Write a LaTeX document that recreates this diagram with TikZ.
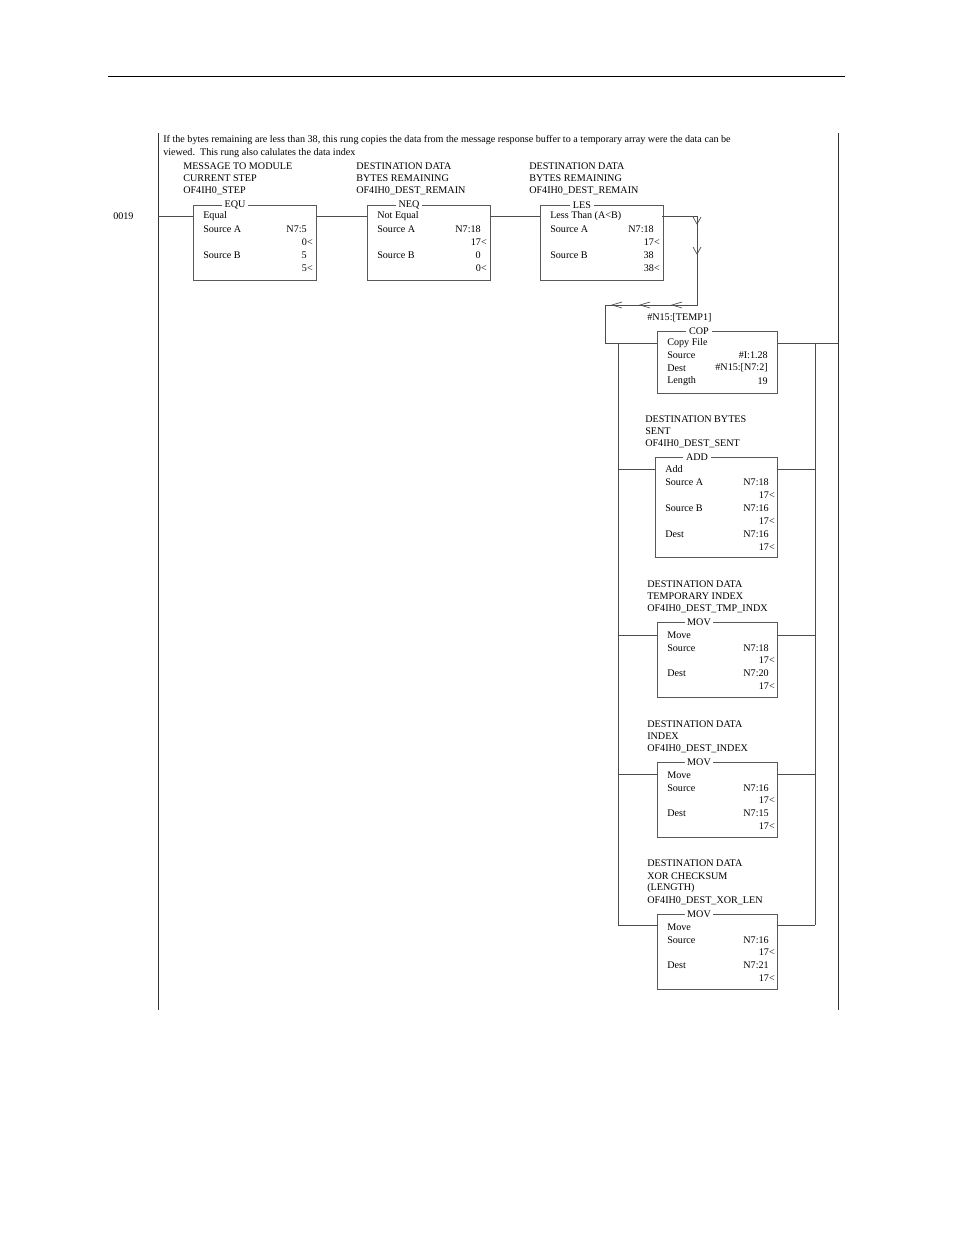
\documentclass[tikz,border=0pt]{standalone}
\usepackage{fontspec}
\setmainfont{Liberation Serif}
\usetikzlibrary{positioning}

\tikzset{
  rail/.style={draw=black!80, line width=0.6pt},
  wire/.style={draw=black!70, line width=0.5pt},
  instr/.style={draw=black!65, line width=0.6pt, fill=white},
  txt/.style={inner sep=0pt, font=\fontsize{7.6}{9}\selectfont},
  hdr/.style={txt, fill=white, inner xsep=2pt},
}
% box: name, left x, top y, right x, bottom y, header
\newcommand{\ladbox}[6]{%
  \draw[instr] (#2,#3) rectangle (#4,#5);
  \coordinate (#1nw) at (#2,#3);
  \coordinate (#1se) at (#4,#5);
  \node[hdr] (#1hdr) at (#2+42,#3) {#6};
}

\begin{document}
\begin{tikzpicture}[x=0.75pt,y=-0.75pt]
\useasboundingbox (0,0) rectangle (954,1235);

% page rule and rails
\draw[line width=0.6pt] (108,76) -- (845,76);
\coordinate (railLtop) at (158,133);
\coordinate (railLbot) at (158,1010);
\coordinate (railRtop) at (838,133);
\coordinate (railRbot) at (838,1010);
\draw[rail] (railLtop) -- (railLbot);
\draw[rail] (railRtop) -- (railRbot);

% rung comment
\node[txt, anchor=west] (cmt1) at (163,140) {If the bytes remaining are less than 38, this rung copies the data from the message response buffer to a temporary array were the data can be};
\node[txt, anchor=west] (cmt2) at (163,153) {viewed.\ \ This rung also calulates the data index};
\node[txt, anchor=west] (rungno) at (113,216) {0019};

% input instructions
\foreach \nm/\bx/\lx/\la/\lb/\lc/\hd in {
  equ/193/183/MESSAGE TO MODULE/CURRENT STEP/OF4IH0\_STEP/EQU,
  neq/367/356/DESTINATION DATA/BYTES REMAINING/OF4IH0\_DEST\_REMAIN/NEQ,
  les/540/529/DESTINATION DATA/BYTES REMAINING/OF4IH0\_DEST\_REMAIN/LES}{
  \node[txt, anchor=west] at (\lx,166) {\la};
  \node[txt, anchor=west] at (\lx,178) {\lb};
  \node[txt, anchor=west] at (\lx,191) {\lc};
  \ladbox{\nm}{\bx}{205}{\bx+123}{280}{\hd}
}
\foreach \nm/\ttl/\sa/\va/\sb/\vb in {
  equ/Equal/N7:5/0</5/5<,
  neq/Not Equal/N7:18/17</0/0<,
  les/Less Than (A<B)/N7:18/17</38/38<}{
  \node[txt, anchor=west] at ([shift={(10,11)}]\nm nw) {\ttl};
  \node[txt, anchor=west] at ([shift={(10,24)}]\nm nw) {Source A};
  \node[txt, anchor=east] at ([shift={(114,24)}]\nm nw) {\sa};
  \node[txt, anchor=east] at ([shift={(120,37)}]\nm nw) {\va};
  \node[txt, anchor=west] at ([shift={(10,50)}]\nm nw) {Source B};
  \node[txt, anchor=east] at ([shift={(114,50)}]\nm nw) {\sb};
  \node[txt, anchor=east] at ([shift={(120,63)}]\nm nw) {\vb};
}
\draw[wire] (158,216) -- (193,216);
\draw[wire] (316,216) -- (367,216);
\draw[wire] (490,216) -- (540,216);

% wrap of the rung to the outputs
\coordinate (wrapA) at (697,216);
\coordinate (wrapB) at (697,305);
\coordinate (wrapC) at (605,305);
\coordinate (wrapD) at (605,343);
\draw[wire] (662,216) -- (wrapA) -- (wrapB) -- (wrapC) -- (wrapD);
\foreach \y in {224,254}
  \draw[wire] (693,\y-7) -- (697,\y) -- (701,\y-7);
\foreach \x in {612,640,672}
  \draw[wire] (\x+10,302) -- (\x,305) -- (\x+10,308);

% output branch
\coordinate (brL) at (618,343);
\coordinate (brR) at (815,343);
\draw[wire] (wrapD) -- (657,343);
\draw[wire] (777,343) -- (838,343);
\draw[wire] (brL) -- (618,925);
\draw[wire] (brR) -- (815,925);
\foreach \y/\l/\r in {469/655/777, 635/657/777, 774/657/777, 925/657/777}{
  \draw[wire] (618,\y) -- (\l,\y);
  \draw[wire] (\r,\y) -- (815,\y);
}

% COP
\node[txt, anchor=west] at (647,318) {\#N15:[TEMP1]};
\ladbox{cop}{657}{331}{777}{393}{COP}
\node[txt, anchor=west] at ([shift={(10,12)}]copnw) {Copy File};
\foreach \dy/\l/\r in {24/Source/\#I:1.28, 37/Dest/\#N15:[N7:2], 50/Length/19}{
  \node[txt, anchor=west] at ([shift={(10,\dy)}]copnw) {\l};
  \node[txt, anchor=east] at ([shift={(111,\dy)}]copnw) {\r};
}

% ADD
\node[txt, anchor=west] at (645,419) {DESTINATION BYTES};
\node[txt, anchor=west] at (645,431) {SENT};
\node[txt, anchor=west] at (645,444) {OF4IH0\_DEST\_SENT};
\ladbox{add}{655}{457}{777}{557}{ADD}
\node[txt, anchor=west] at ([shift={(10,12)}]addnw) {Add};
\foreach \dy/\l/\r in {25/Source A/N7:18, 51/Source B/N7:16, 77/Dest/N7:16}{
  \node[txt, anchor=west] at ([shift={(10,\dy)}]addnw) {\l};
  \node[txt, anchor=east] at ([shift={(114,\dy)}]addnw) {\r};
  \node[txt, anchor=east] at ([shift={(120,\dy+13)}]addnw) {17<};
}

% MOV blocks
\foreach \nm/\top/\la/\lb/\lc/\sv/\dv in {
  movA/622/TEMPORARY INDEX/OF4IH0\_DEST\_TMP\_INDX//N7:18/N7:20,
  movB/762/INDEX/OF4IH0\_DEST\_INDEX//N7:16/N7:15}{
  \node[txt, anchor=west] at (647,\top-38) {DESTINATION DATA};
  \node[txt, anchor=west] at (647,\top-26) {\la};
  \node[txt, anchor=west] at (647,\top-13) {\lb};
  \ladbox{\nm}{657}{\top}{777}{\top+75}{MOV}
  \node[txt, anchor=west] at ([shift={(10,13)}]\nm nw) {Move};
  \node[txt, anchor=west] at ([shift={(10,26)}]\nm nw) {Source};
  \node[txt, anchor=east] at ([shift={(112,26)}]\nm nw) {\sv};
  \node[txt, anchor=east] at ([shift={(118,38)}]\nm nw) {17<};
  \node[txt, anchor=west] at ([shift={(10,51)}]\nm nw) {Dest};
  \node[txt, anchor=east] at ([shift={(112,51)}]\nm nw) {\dv};
  \node[txt, anchor=east] at ([shift={(118,64)}]\nm nw) {17<};
}
\node[txt, anchor=west] at (647,863) {DESTINATION DATA};
\node[txt, anchor=west] at (647,876) {XOR CHECKSUM};
\node[txt, anchor=west] at (647,888) {(LENGTH)};
\node[txt, anchor=west] at (647,901) {OF4IH0\_DEST\_XOR\_LEN};
\ladbox{movC}{657}{914}{777}{989}{MOV}
\node[txt, anchor=west] at ([shift={(10,13)}]movCnw) {Move};
\node[txt, anchor=west] at ([shift={(10,26)}]movCnw) {Source};
\node[txt, anchor=east] at ([shift={(112,26)}]movCnw) {N7:16};
\node[txt, anchor=east] at ([shift={(118,38)}]movCnw) {17<};
\node[txt, anchor=west] at ([shift={(10,51)}]movCnw) {Dest};
\node[txt, anchor=east] at ([shift={(112,51)}]movCnw) {N7:21};
\node[txt, anchor=east] at ([shift={(118,64)}]movCnw) {17<};
\end{tikzpicture}
\end{document}
